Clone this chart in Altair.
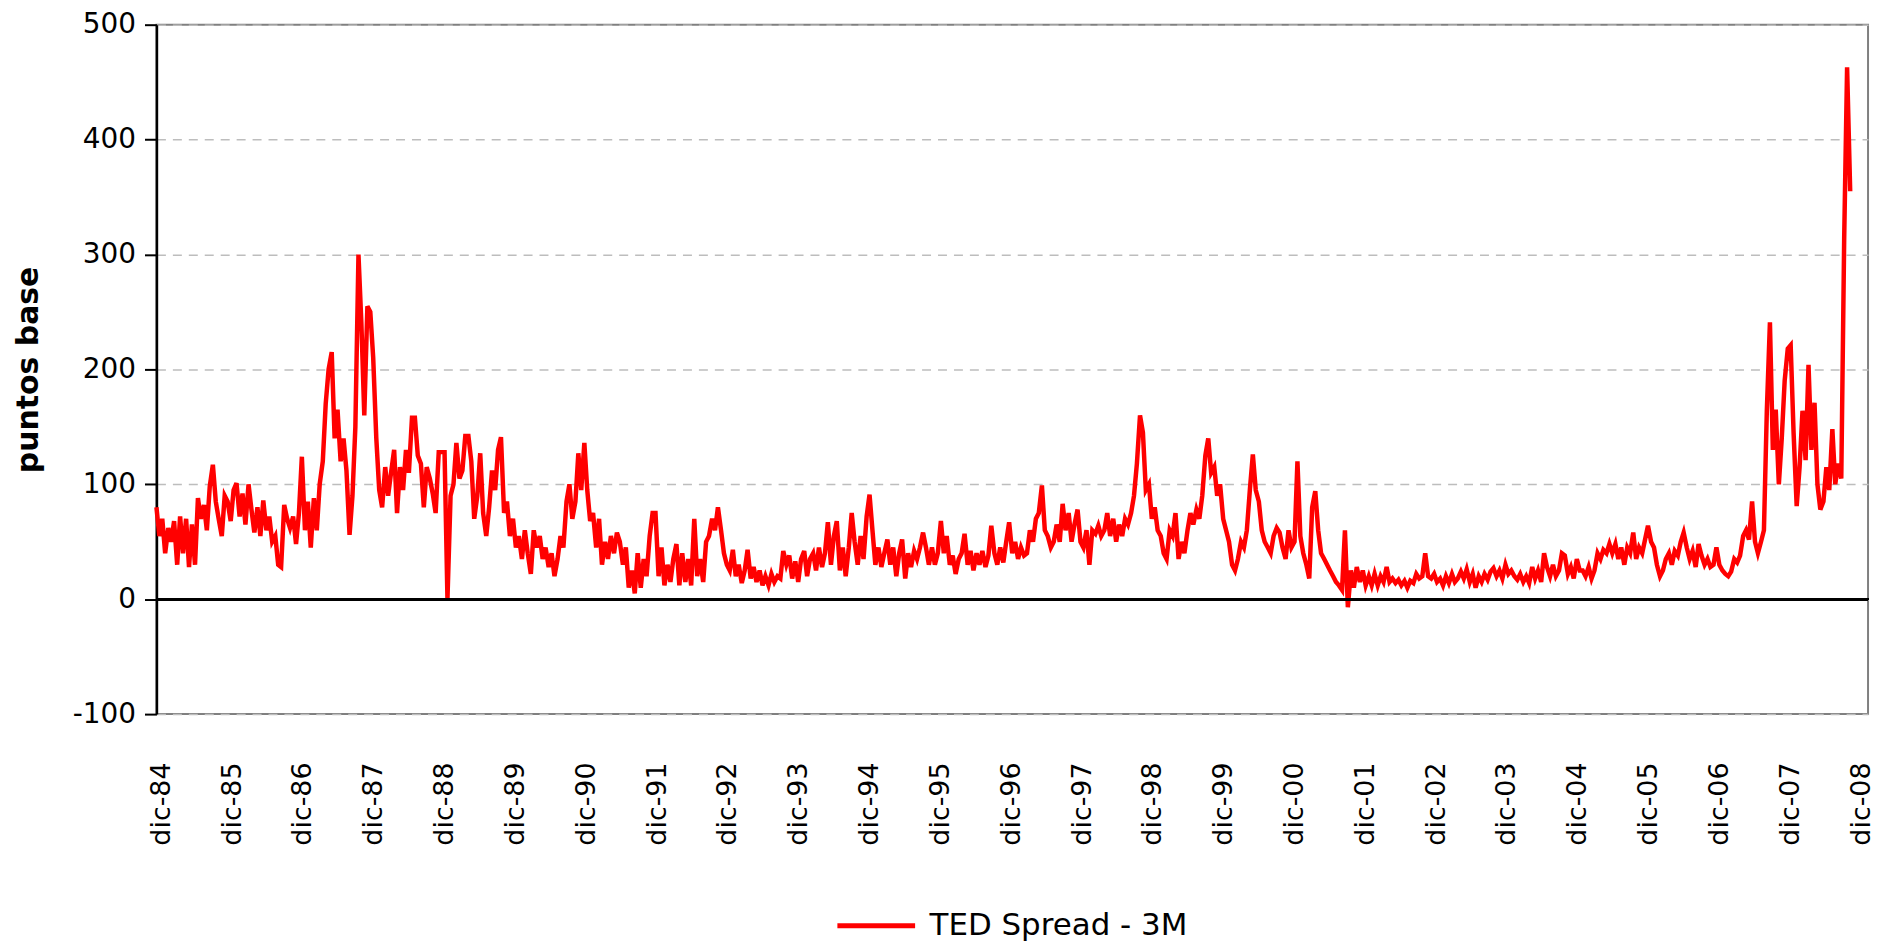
import altair as alt
import pandas as pd

# TED Spread - 3M (puntos base), one reading roughly every half month,
# each list covers Dec(previous year) .. Nov(year)
ted_1985 = [80, 55, 70, 40, 62, 50, 68, 30, 72, 40, 70, 28, 65, 30, 88, 70, 82, 60, 98, 117, 85, 70, 55, 90]
ted_1986 = [85, 68, 95, 101, 72, 92, 65, 100, 78, 58, 80, 55, 86, 60, 72, 50, 55, 30, 28, 82, 70, 62, 72, 48]
ted_1987 = [75, 124, 60, 85, 45, 88, 60, 100, 120, 170, 200, 215, 140, 165, 120, 140, 112, 56, 90, 150, 300, 240, 160, 255]
ted_1988 = [250, 210, 140, 95, 80, 115, 90, 110, 130, 75, 115, 95, 130, 110, 158, 158, 125, 118, 80, 115, 105, 92, 75, 128]
ted_1989 = [128, 128, 0, 90, 100, 136, 105, 112, 142, 142, 120, 70, 90, 127, 75, 55, 80, 112, 95, 130, 141, 75, 85, 55]
ted_1990 = [70, 45, 55, 35, 60, 40, 22, 60, 45, 55, 35, 45, 28, 40, 20, 35, 55, 45, 85, 100, 70, 85, 127, 95]
ted_1991 = [136, 95, 68, 75, 45, 70, 30, 50, 35, 55, 40, 58, 50, 30, 45, 10, 25, 5, 40, 10, 35, 20, 55, 75]
ted_1992 = [75, 20, 45, 12, 30, 15, 35, 48, 12, 40, 15, 35, 12, 70, 20, 35, 15, 50, 55, 70, 60, 80, 60, 40]
ted_1993 = [30, 25, 43, 20, 30, 14, 25, 43, 18, 28, 15, 25, 12, 20, 12, 22, 15, 20, 18, 42, 30, 38, 18, 33]
ted_1994 = [15, 35, 42, 20, 35, 40, 25, 45, 28, 40, 67, 30, 55, 68, 25, 45, 20, 45, 75, 50, 30, 55, 35, 72]
ted_1995 = [91, 60, 30, 45, 28, 40, 52, 30, 45, 20, 40, 52, 18, 40, 28, 42, 35, 45, 58, 45, 30, 45, 30, 40]
ted_1996 = [68, 40, 55, 30, 38, 22, 35, 40, 57, 30, 42, 25, 40, 30, 42, 28, 38, 64, 40, 30, 45, 32, 50, 67]
ted_1997 = [40, 50, 35, 45, 38, 40, 60, 50, 70, 75, 99, 60, 55, 45, 50, 65, 50, 83, 60, 75, 50, 65, 78, 50]
ted_1998 = [45, 60, 30, 60, 57, 64, 55, 60, 75, 55, 70, 50, 65, 55, 70, 65, 75, 90, 118, 160, 145, 95, 100, 70]
ted_1999 = [80, 60, 55, 40, 35, 60, 55, 75, 35, 50, 40, 60, 75, 65, 78, 70, 90, 125, 140, 110, 115, 90, 100, 70]
ted_2000 = [60, 50, 30, 25, 35, 50, 45, 60, 96, 126, 95, 85, 60, 50, 45, 40, 55, 62, 58, 45, 35, 60, 45, 50]
ted_2001 = [120, 55, 40, 30, 18, 80, 94, 60, 40, 35, 30, 25, 20, 15, 12, 8, 60, -7, 25, 10, 28, 15, 25, 12]
ted_2002 = [20, 12, 22, 12, 20, 15, 28, 15, 18, 14, 17, 12, 16, 10, 16, 14, 22, 18, 20, 40, 20, 18, 22, 15]
ted_2003 = [18, 12, 20, 14, 22, 15, 18, 24, 18, 26, 15, 22, 10, 20, 15, 22, 17, 24, 27, 20, 25, 18, 30, 22]
ted_2004 = [25, 20, 17, 22, 15, 20, 14, 28, 18, 25, 15, 40, 28, 20, 30, 20, 25, 40, 38, 22, 28, 18, 35, 25]
ted_2005 = [25, 20, 28, 18, 25, 40, 35, 43, 40, 48, 40, 48, 35, 45, 30, 45, 40, 58, 35, 45, 40, 52, 64, 50]
ted_2006 = [45, 30, 20, 25, 35, 40, 30, 42, 38, 50, 58, 45, 35, 42, 28, 48, 38, 30, 35, 28, 30, 45, 30, 25]
ted_2007 = [22, 20, 24, 35, 32, 38, 55, 60, 52, 85, 50, 40, 50, 60, 164, 241, 130, 165, 100, 140, 190, 218, 221, 145]
ted_2008 = [81, 115, 164, 121, 204, 130, 171, 100, 78, 85, 115, 95, 148, 100, 118, 105, 314, 463, 355]

series_name = "TED Spread - 3M"
tick_years = list(range(1984, 2009))
y_ticks = [-100, 0, 100, 200, 300, 400, 500]

values = (ted_1985 + ted_1986 + ted_1987 + ted_1988 + ted_1989 + ted_1990 + ted_1991 + ted_1992
          + ted_1993 + ted_1994 + ted_1995 + ted_1996 + ted_1997 + ted_1998 + ted_1999 + ted_2000
          + ted_2001 + ted_2002 + ted_2003 + ted_2004 + ted_2005 + ted_2006 + ted_2007 + ted_2008)

start, end = "1984-11-05", "2009-01-06"
dates = pd.date_range(start, end, periods=577)[: len(values)].strftime("%Y-%m-%d")
df = pd.DataFrame({"fecha": dates, "ted": values, "serie": series_name})


def ms(ts):
    return int(pd.Timestamp(ts, tz="UTC").value // 10**6)


tick_vals = [ms(f"{y}-12-01") for y in tick_years]
FONT = "DejaVu Sans"

line = alt.Chart(df).mark_line(strokeWidth=4.5, interpolate="linear").encode(
    x=alt.X(
        "fecha:T",
        scale=alt.Scale(type="utc", domain=[ms(start), ms(end)], nice=False),
        axis=alt.Axis(
            values=tick_vals,
            labelExpr="'dic-' + utcFormat(datum.value, '%y')",
            labelAngle=270,
            labelAlign="right",
            labelBaseline="middle",
            labelPadding=48,
            labelFontSize=27,
            labelFont=FONT,
            labelColor="black",
            labelOverlap=False,
            labelFlush=False,
            ticks=False,
            domain=False,
            grid=False,
            title=None,
        ),
    ),
    y=alt.Y(
        "ted:Q",
        scale=alt.Scale(domain=[-100, 500], nice=False, zero=False),
        axis=alt.Axis(
            values=y_ticks,
            labelExpr="datum.value < 0 ? '-' + abs(datum.value) : '' + datum.value",
            labelFontSize=28,
            labelFont=FONT,
            labelColor="black",
            labelPadding=9,
            tickSize=12,
            tickWidth=2,
            tickColor="black",
            domainColor="black",
            domainWidth=2.5,
            grid=True,
            gridColor="#bdbdbd",
            gridDash=[9, 7],
            gridWidth=1.5,
            title="puntos base",
            titleFont=FONT,
            titleFontSize=30,
            titleFontWeight="bold",
            titleColor="black",
            titleAngle=270,
            titleAlign="center",
            titleBaseline="middle",
            titleX=-128,
            titleY=346,
        ),
    ),
    color=alt.Color(
        "serie:N",
        scale=alt.Scale(domain=[series_name], range=["#ff0000"]),
        legend=alt.Legend(
            title=None,
            orient="none",
            legendX=681,
            legendY=863,
            symbolType="stroke",
            symbolSize=6084,
            symbolStrokeWidth=5,
            labelFont=FONT,
            labelFontSize=31,
            labelColor="black",
            labelOffset=12,
            labelLimit=500,
        ),
    ),
)

zero = alt.Chart(df).mark_rule(color="black", strokeWidth=2.5).encode(y=alt.datum(0))

chart = (
    alt.layer(line, zero)
    .properties(
        width=1718,
        height=692,
        autosize=alt.AutoSizeParams(type="none"),
        padding={"left": 149, "top": 15, "right": 9, "bottom": 228},
        background="white",
    )
    .configure_view(stroke="#808080", strokeWidth=2)
)

chart.save("out.html", embed_options={"renderer": "svg", "actions": False})
